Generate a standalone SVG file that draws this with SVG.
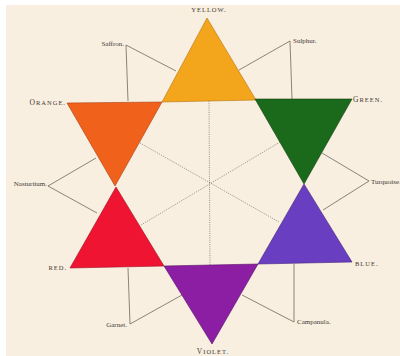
<svg xmlns="http://www.w3.org/2000/svg" width="400" height="356" viewBox="0 0 400 356">
<style>
.lbl{font-family:"Liberation Serif",serif;font-size:7px;fill:#3e3a35}
.cap{font-family:"Liberation Serif",serif;font-size:6.5px;fill:#3e3a35;letter-spacing:1px}
.ln{stroke:#5a5550;stroke-width:0.7;fill:none}
.dot{stroke:#6a6560;stroke-width:0.7;stroke-dasharray:1 1.2;fill:none}
.tri{stroke-width:0.6;stroke-linejoin:round}
</style>
<rect width="400" height="356" fill="#ffffff"/>
<rect x="6" y="5" width="394" height="351" fill="#f9efe0"/>
<g id="connectors">
<polyline class="ln" points="128,101 126,45 176,71"/>
<polyline class="ln" points="292,99 290,41 239,70"/>
<polyline class="ln" points="96,158 48,186 97,213"/>
<polyline class="ln" points="322,153 369,181 323,210"/>
<polyline class="ln" points="128,268 130,324 182,295"/>
<polyline class="ln" points="294,264 294,322 242,295"/>
<line class="dot" x1="209" y1="101" x2="210" y2="265"/>
<line class="dot" x1="140" y1="143" x2="279" y2="222"/>
<line class="dot" x1="280" y1="142" x2="141" y2="225"/>
</g>
<g id="yellow"><polygon class="tri" points="207,18 162,102 256,100" fill="#f3a51c" stroke="#b57410"/></g>
<g id="green"><polygon class="tri" points="255,99 352,99 304,184" fill="#1b6a1c" stroke="#0f4010"/></g>
<g id="orange"><polygon class="tri" points="67,103 162,102 115,186" fill="#f0621c" stroke="#a8400f"/></g>
<g id="red"><polygon class="tri" points="116,187 70,268 164,266" fill="#ee1432" stroke="#a00d20"/></g>
<g id="blue"><polygon class="tri" points="304,184 258,264 352,262" fill="#6a3ec0" stroke="#3f2478"/></g>
<g id="violet"><polygon class="tri" points="164,266 258,264 212,344" fill="#8c1ea3" stroke="#551065"/></g>
<g id="labels">
<text class="cap" x="209" y="12" text-anchor="middle">YELLOW.</text>
<text class="lbl" x="124" y="46" text-anchor="end">Saffron.</text>
<text class="lbl" x="293" y="43">Sulphur.</text>
<text class="cap" x="353" y="102"><tspan font-size="7.5">G</tspan>REEN.</text>
<text class="cap" x="66" y="105" text-anchor="end"><tspan font-size="7.5">O</tspan>RANGE.</text>
<text class="lbl" x="47" y="186" text-anchor="end">Nasturtium.</text>
<text class="lbl" x="371" y="184" font-size="6">Turquoise.</text>
<text class="cap" x="355" y="266">BLUE.</text>
<text class="lbl" x="297" y="324">Campanula.</text>
<text class="cap" x="213" y="354" text-anchor="middle"><tspan font-size="7.5">V</tspan>IOLET.</text>
<text class="lbl" x="127" y="327" text-anchor="end">Garnet.</text>
<text class="cap" x="67" y="270" text-anchor="end">RED.</text>
</g>
</svg>
